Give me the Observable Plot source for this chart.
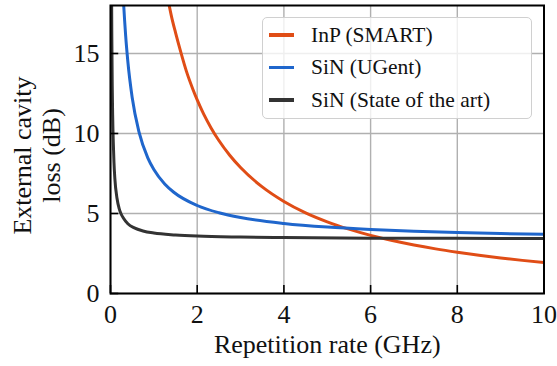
<!DOCTYPE html>
<html>
<head>
<meta charset="utf-8">
<script src="https://cdn.jsdelivr.net/npm/d3@7"></script>
<script src="https://cdn.jsdelivr.net/npm/@observablehq/plot@0.6"></script>
<style>
  html, body { margin: 0; padding: 0; background: #fff; }
  #wrap { position: relative; width: 557px; height: 366px; }
  #legend { position: absolute; left: 262px; top: 17px; width: 270px; height: 102px; box-sizing: border-box;
    background: rgba(255,255,255,0.8); border: 1.2px solid #d0d0d0; border-radius: 5px; }
  .row { position: absolute; left: 0; height: 30px; display: flex; align-items: center; font-size: 21.5px; color: #111; }
  .sw { width: 25px; height: 3.5px; margin-left: 6px; margin-right: 17px; }
</style>
</head>
<body>
<div id="wrap"><div id="legend"></div></div>
<script>
const xTicks = [0, 2, 4, 6, 8, 10];
const yTicks = [0, 5, 10, 15];
const xLabel = "Repetition rate (GHz)";
const yLabel = "External cavity\nloss (dB)";
const seriesNames = ["InP (SMART)", "SiN (UGent)", "SiN (State of the art)"];
const seriesColors = ["#e04d16", "#1f66cc", "#333333"];

const inpX = [1.25, 1.32, 1.4, 1.5, 1.62, 1.75, 1.9, 2.0, 2.15, 2.32, 2.5, 2.75, 3.0, 3.5, 4.0, 4.5, 5.0, 5.5, 6.0, 6.5, 7.0, 7.5, 8.0, 8.5, 9.0, 9.5, 10.0];
const inpY = [19.7, 18.5, 17.4, 16.3, 15.1, 13.9, 12.77, 12.1, 11.21, 10.35, 9.56, 8.64, 7.87, 6.66, 5.75, 5.04, 4.48, 4.02, 3.63, 3.31, 3.03, 2.79, 2.58, 2.39, 2.22, 2.07, 1.94];

const ugentX = [0.27, 0.30, 0.35, 0.40, 0.50, 0.66, 0.86, 1.0, 1.25, 1.46, 2.0, 2.5, 3.0, 4.0, 5.0, 6.0, 7.0, 8.0, 9.0, 10.0];
const ugentY = [19.9, 18.25, 16.1, 14.5, 12.25, 10.07, 8.48, 7.75, 6.85, 6.33, 5.5, 5.05, 4.75, 4.38, 4.15, 4.0, 3.89, 3.81, 3.75, 3.7];

const soaX = [0.02, 0.025, 0.03, 0.04, 0.05, 0.065, 0.08, 0.1, 0.15, 0.2, 0.24, 0.3, 0.4, 0.55, 0.75, 1.0, 1.5, 2.0, 3.0, 4.0, 6.0, 8.0, 10.0];
const soaY = [22.6, 18.8, 16.2, 13.0, 11.1, 9.4, 8.2, 7.2, 5.95, 5.3, 5.0, 4.7, 4.36, 4.1, 3.91, 3.78, 3.66, 3.59, 3.53, 3.5, 3.46, 3.45, 3.44];

const seriesX = [inpX, ugentX, soaX];
const seriesY = [inpY, ugentY, soaY];

const font = "'Liberation Serif', 'Times New Roman', serif";
document.getElementById("wrap").style.fontFamily = font;

const lineMarks = seriesNames.map((name, i) =>
  Plot.line(seriesX[i].map((x, j) => ({x, y: seriesY[i][j]})), {
    x: "x", y: "y", stroke: seriesColors[i], strokeWidth: 3, curve: "monotone-x", clip: true
  })
);

const chart = Plot.plot({
  width: 557,
  height: 366,
  marginLeft: 110,
  marginRight: 13.5,
  marginTop: 5,
  marginBottom: 73,
  style: {fontFamily: font, background: "transparent", color: "#111"},
  x: {domain: [0, 10], ticks: xTicks},
  y: {domain: [0, 18], ticks: yTicks},
  marks: [
    Plot.gridX(xTicks, {stroke: "#b0b0b0", strokeOpacity: 1, strokeWidth: 1.4}),
    Plot.gridY(yTicks, {stroke: "#b0b0b0", strokeOpacity: 1, strokeWidth: 1.4}),
    ...lineMarks,
    Plot.frame({stroke: "#000", strokeWidth: 2}),
    Plot.ruleX(xTicks, {x: d => d, y1: 0, y2: 0.5, stroke: "#000", strokeWidth: 1.6}),
    Plot.ruleY(yTicks, {y: d => d, x1: 0, x2: 0.19, stroke: "#000", strokeWidth: 1.6}),
    Plot.axisX(xTicks, {tickSize: 0, tickPadding: 11, fontSize: 26, fontFamily: font, label: null, fill: "#111"}),
    Plot.axisY(yTicks, {tickSize: 0, tickPadding: 11, fontSize: 26, fontFamily: font, label: null, fill: "#111"}),
    Plot.text([xLabel], {frameAnchor: "bottom", dy: 51, fontSize: 26, fontFamily: font, fill: "#111", textAnchor: "middle", lineAnchor: "middle"}),
    Plot.text([yLabel], {frameAnchor: "left", dx: -74, dy: 6, rotate: -90, fontSize: 26, fontFamily: font, fill: "#111", textAnchor: "middle", lineAnchor: "middle", lineHeight: 1.1})
  ]
});
document.getElementById("wrap").prepend(chart);

const legend = document.getElementById("legend");
const rowTops = [2, 34.5, 67];
seriesNames.forEach((name, i) => {
  const row = document.createElement("div");
  row.className = "row";
  row.style.top = rowTops[i] + "px";
  row.style.fontFamily = font;
  const sw = document.createElement("div");
  sw.className = "sw";
  sw.style.background = seriesColors[i];
  const t = document.createElement("span");
  t.textContent = name;
  row.appendChild(sw);
  row.appendChild(t);
  legend.appendChild(row);
});
</script>
</body>
</html>
